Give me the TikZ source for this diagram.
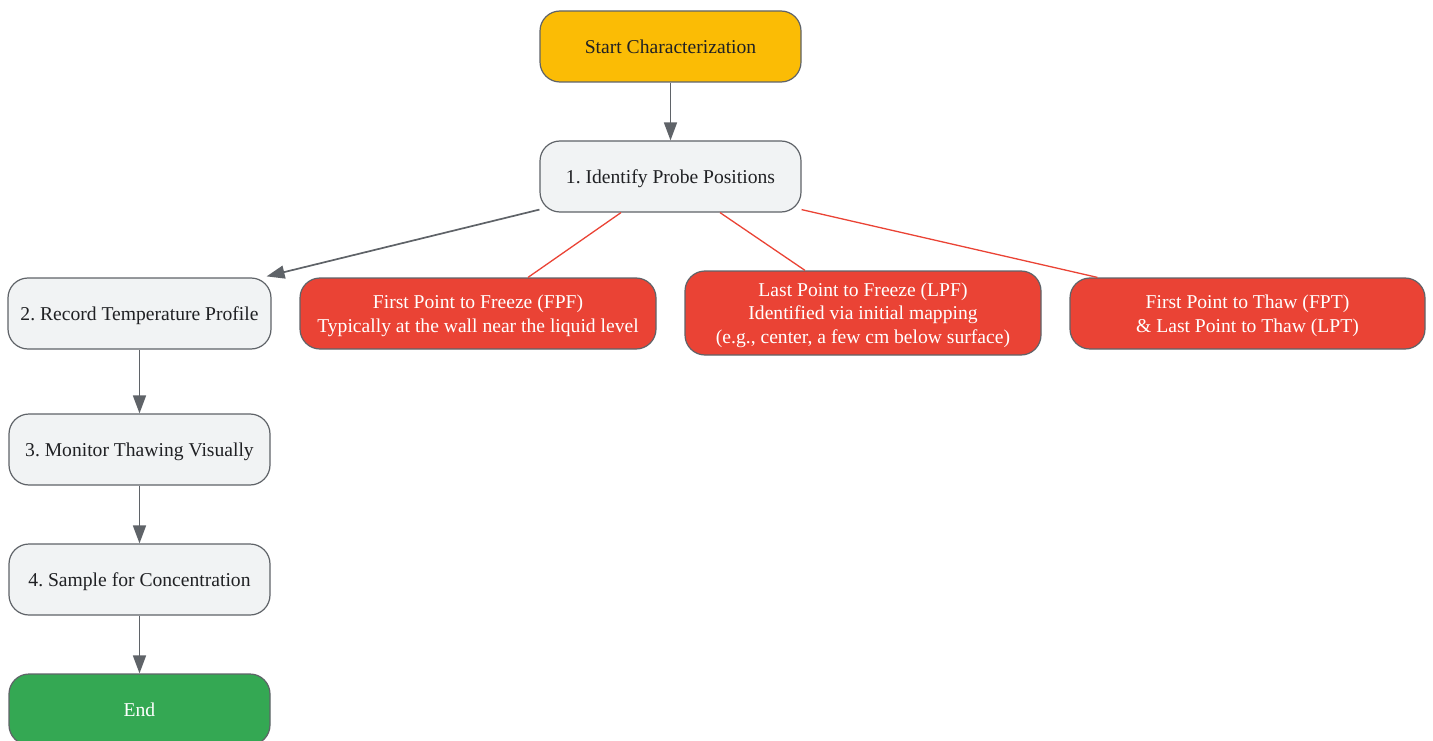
\documentclass[tikz,border=0pt]{standalone}
\usepackage{fontspec}
\setmainfont{Liberation Serif}
\usetikzlibrary{arrows.meta,calc}
\definecolor{cyel}{HTML}{FBBC05}
\definecolor{cred}{HTML}{EA4335}
\definecolor{cgrn}{HTML}{34A853}
\definecolor{clight}{HTML}{F1F3F4}
\definecolor{cstroke}{HTML}{5F6368}
\definecolor{ctext}{HTML}{202124}
\tikzset{
  box/.style={draw=cstroke, line width=1.2pt, rounded corners=20pt, align=center,
    font=\fontsize{19.6}{23.5}\selectfont\frenchspacing, inner sep=0pt,
    text depth=0pt},
  lightbox/.style={box, fill=clight, text=ctext},
  redbox/.style={box, fill=cred, text=white},
  flow/.style={draw=cstroke, line width=1.7pt, -{Triangle[length=18pt,width=13pt]}},
  redline/.style={draw=cred, line width=1.3pt}
}
\begin{document}
\begin{tikzpicture}[x=1pt,y=-1pt]
\useasboundingbox (0,0) rectangle (1433,741);
\node[box, fill=cyel, text=ctext, minimum width=261pt, minimum height=71pt] (start) at (670.5,46.5) {Start Characterization};
\node[lightbox, minimum width=261pt, minimum height=71pt] (id) at (670.5,176.5) {1. Identify Probe Positions};
\node[lightbox, minimum width=263pt, minimum height=71pt] (rec) at (139.5,313.5) {2. Record Temperature Profile};
\node[redbox, minimum width=356pt, minimum height=71pt] (fpf) at (478,313.5) {First Point to Freeze (FPF)\\Typically at the wall near the liquid level};
\node[redbox, minimum width=356pt, minimum height=84pt] (lpf) at (863,313) {Last Point to Freeze (LPF)\\Identified via initial mapping\\(e.g., center, a few cm below surface)};
\node[redbox, minimum width=355pt, minimum height=71pt] (fpt) at (1247.5,313.5) {First Point to Thaw (FPT)\\\& Last Point to Thaw (LPT)};
\node[lightbox, minimum width=261pt, minimum height=71pt] (mon) at (139.5,449.5) {3. Monitor Thawing Visually};
\node[lightbox, minimum width=261pt, minimum height=71pt] (samp) at (139.5,579.5) {4. Sample for Concentration};
\node[box, fill=cgrn, text=white, minimum width=261pt, minimum height=71pt] (end) at (139.5,709.5) {End};

\draw[flow] (start) -- (id);
\draw[flow] ($(id.south west)+(0,-3)$) -- ($(rec.north east)+(-5,-1)$);
\draw[redline] ($(id.south)+(-49.5,0)$) -- ($(fpf.north)+(50,0)$);
\draw[redline] ($(id.south)+(49.5,0)$) -- ($(lpf.north)+(-58,0)$);
\draw[redline] ($(id.south east)+(0,-3)$) -- ($(fpt.north west)+(28,0)$);
\draw[flow] (rec) -- (mon);
\draw[flow] (mon) -- (samp);
\draw[flow] (samp) -- (end);
\end{tikzpicture}
\end{document}
